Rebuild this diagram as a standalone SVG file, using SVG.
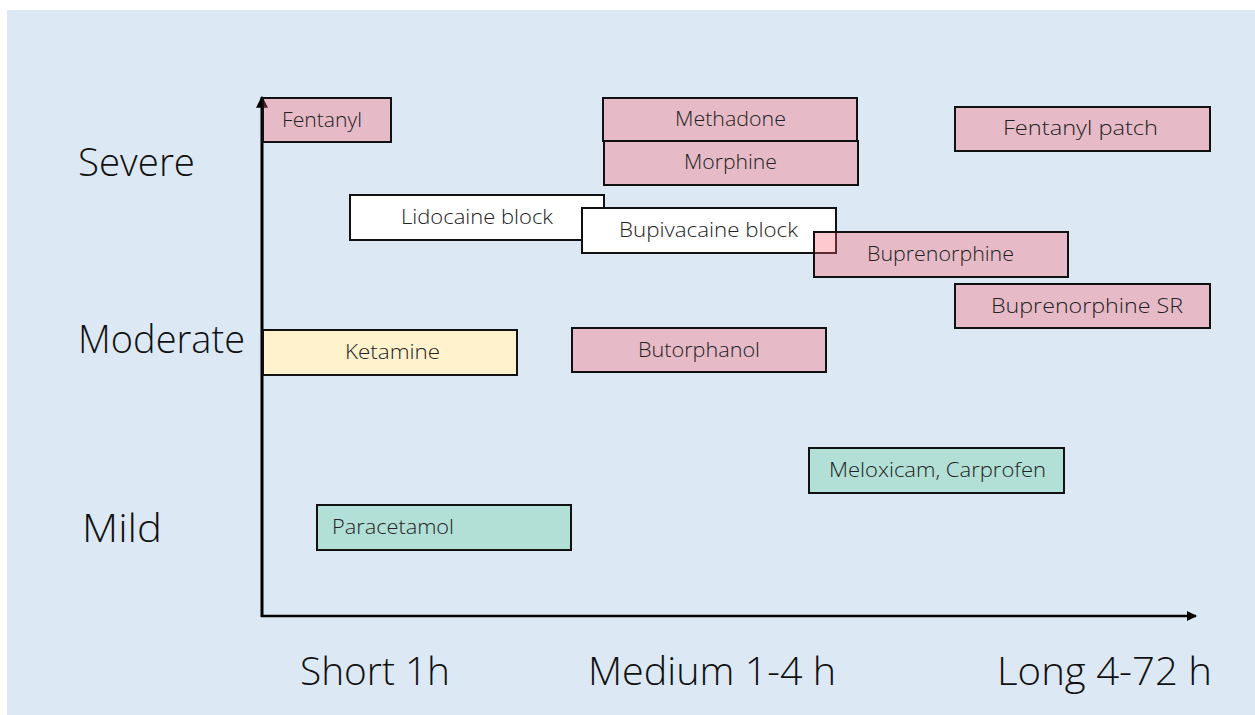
<svg xmlns="http://www.w3.org/2000/svg" width="1255" height="715" viewBox="0 0 1255 715">
<defs>
<style>
.bg{fill:#DCE8F4}
.box{stroke:#111;stroke-width:2}
.pink{fill:rgb(255,95,110);fill-opacity:0.33}
.green{fill:#B2DFD6}
.yellow{fill:#FFF2CC}
.white{fill:#FFFFFF}
.lbl{font-family:"Open Sans","Liberation Sans",sans-serif;font-weight:300;font-size:20px;fill:#222}
.ax{font-family:"Open Sans","Liberation Sans",sans-serif;font-weight:300;font-size:38px;fill:#111}
</style>
<marker id="ah" viewBox="0 0 10 10" refX="9" refY="5" markerWidth="4" markerHeight="4" orient="auto" markerUnits="strokeWidth">
<path d="M0,0 L10,5 L0,10 z" fill="#000"/>
</marker>
</defs>
<rect class="bg" x="7" y="10" width="1248" height="705"/>
<g id="connectors">
<line x1="262" y1="617" x2="262" y2="97" stroke="#000" stroke-width="3" marker-end="url(#ah)"/>
<line x1="261" y1="616" x2="1196" y2="616" stroke="#000" stroke-width="2.5" marker-end="url(#ah)"/>
</g>
<g id="axis-labels">
<text class="ax" x="78" y="176" textLength="117" lengthAdjust="spacingAndGlyphs">Severe</text>
<text class="ax" x="78" y="353" textLength="167" lengthAdjust="spacingAndGlyphs">Moderate</text>
<text class="ax" x="82" y="542" textLength="80" lengthAdjust="spacingAndGlyphs">Mild</text>
<text class="ax" x="300" y="685" textLength="150" lengthAdjust="spacingAndGlyphs">Short 1h</text>
<text class="ax" x="588" y="685" textLength="248" lengthAdjust="spacingAndGlyphs">Medium 1-4 h</text>
<text class="ax" x="997" y="685" textLength="215" lengthAdjust="spacingAndGlyphs">Long 4-72 h</text>
</g>
<g id="n-fentanyl"><rect class="box pink" x="263" y="98" width="128" height="44"/><text class="lbl" x="282" y="127" textLength="80" lengthAdjust="spacingAndGlyphs">Fentanyl</text></g>
<g id="n-lidocaine"><rect class="box white" x="350" y="195" width="254" height="45"/><text class="lbl" x="401" y="224" textLength="152" lengthAdjust="spacingAndGlyphs">Lidocaine block</text></g>
<g id="n-bupivacaine"><rect class="box white" x="582" y="208" width="254" height="45"/><text class="lbl" x="619" y="237" textLength="179" lengthAdjust="spacingAndGlyphs">Bupivacaine block</text></g>
<g id="n-methadone"><rect class="box pink" x="603" y="98" width="254" height="43"/><text class="lbl" x="675" y="126" textLength="111" lengthAdjust="spacingAndGlyphs">Methadone</text></g>
<g id="n-morphine"><rect class="box pink" x="604" y="141" width="254" height="44"/><text class="lbl" x="684" y="169" textLength="93" lengthAdjust="spacingAndGlyphs">Morphine</text></g>
<g id="n-fentanyl-patch"><rect class="box pink" x="955" y="107" width="255" height="44"/><text class="lbl" x="1003" y="135" textLength="155" lengthAdjust="spacingAndGlyphs">Fentanyl patch</text></g>
<g id="n-buprenorphine"><rect class="box pink" x="814" y="232" width="254" height="45"/><text class="lbl" x="867" y="261" textLength="147" lengthAdjust="spacingAndGlyphs">Buprenorphine</text></g>
<g id="n-buprenorphine-sr"><rect class="box pink" x="955" y="284" width="255" height="44"/><text class="lbl" x="991" y="313" textLength="192" lengthAdjust="spacingAndGlyphs">Buprenorphine SR</text></g>
<g id="n-ketamine"><rect class="box yellow" x="263" y="330" width="254" height="45"/><text class="lbl" x="345" y="359" textLength="95" lengthAdjust="spacingAndGlyphs">Ketamine</text></g>
<g id="n-butorphanol"><rect class="box pink" x="572" y="328" width="254" height="44"/><text class="lbl" x="638" y="357" textLength="122" lengthAdjust="spacingAndGlyphs">Butorphanol</text></g>
<g id="n-meloxicam"><rect class="box green" x="809" y="448" width="255" height="45"/><text class="lbl" x="829" y="477" textLength="217" lengthAdjust="spacingAndGlyphs">Meloxicam, Carprofen</text></g>
<g id="n-paracetamol"><rect class="box green" x="317" y="505" width="254" height="45"/><text class="lbl" x="332" y="534" textLength="122" lengthAdjust="spacingAndGlyphs">Paracetamol</text></g>
</svg>
